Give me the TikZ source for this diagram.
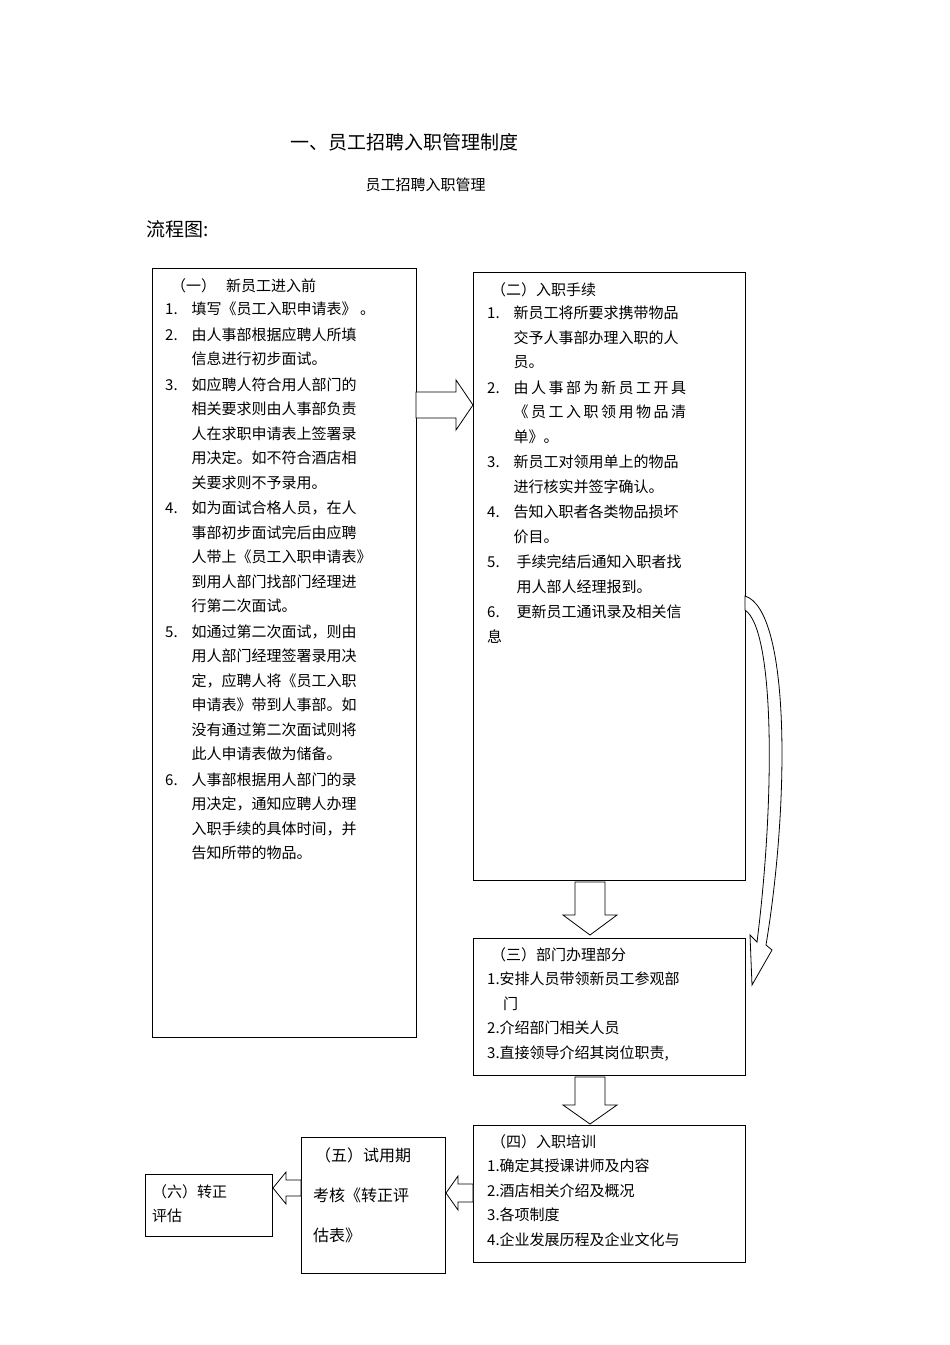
\documentclass[tikz,border=0pt]{standalone}
\usepackage{fontspec}
\newfontfamily\cjk{Noto Sans CJK SC}
\usetikzlibrary{shapes.arrows}
\tikzset{
 boxs/.style={draw,line width=0.9pt},
 txt/.style={anchor=north west,inner sep=0pt,font=\cjk\fontsize{15}{24.5}\selectfont,align=left},
 barrow/.style={draw,line width=0.8pt,fill=white}
}
\begin{document}
\begin{tikzpicture}[x=1pt,y=-1pt]
\useasboundingbox (0,0) rectangle (950,1345);
\node[anchor=west,font=\cjk\fontsize{19}{22}\selectfont] (title) at (287,142) {一、员工招聘入职管理制度};
\node[anchor=west,font=\cjk\fontsize{15}{18}\selectfont] (sub) at (362,185) {员工招聘入职管理};
\node[anchor=west,font=\cjk\fontsize{19}{22}\selectfont] (flow) at (143,229) {流程图:};
% boxes
\draw[boxs] (152,268) rectangle (416,1037) coordinate (b1);
\draw[boxs] (473,272) rectangle (745,880);
\draw[boxs] (473,938) rectangle (745,1075);
\draw[boxs] (473,1125) rectangle (745,1262);
\draw[boxs] (301,1137) rectangle (445,1273);
\draw[boxs] (145,1174) rectangle (272,1236);
% box1 text
\node[txt] (t1) at (165,274) {\begin{tabular}{@{}l@{\hspace{14pt}}l@{}}
\multicolumn{2}{@{\hspace{6pt}}l}{（一）\hspace{10pt}新员工进入前}\\[-1pt]
1. & 填写《员工入职申请表》 。\\[1pt]
2. & 由人事部根据应聘人所填\\ & 信息进行初步面试。\\[1pt]
3. & 如应聘人符合用人部门的\\ & 相关要求则由人事部负责\\ & 人在求职申请表上签署录\\ & 用决定。如不符合酒店相\\ & 关要求则不予录用。\\[1pt]
4. & 如为面试合格人员，在人\\ & 事部初步面试完后由应聘\\ & 人带上《员工入职申请表》\\ & 到用人部门找部门经理进\\ & 行第二次面试。\\[1pt]
5. & 如通过第二次面试，则由\\ & 用人部门经理签署录用决\\ & 定，应聘人将《员工入职\\ & 申请表》带到人事部。如\\ & 没有通过第二次面试则将\\ & 此人申请表做为储备。\\[1pt]
6. & 人事部根据用人部门的录\\ & 用决定，通知应聘人办理\\ & 入职手续的具体时间，并\\ & 告知所带的物品。
\end{tabular}};
% box2 text
\node[txt] (t2) at (487,278) {\begin{tabular}{@{}l@{\hspace{14pt}}l@{}}
\multicolumn{2}{@{\hspace{4pt}}l}{（二）入职手续}\\[-1pt]
1. & 新员工将所要求携带物品\\ & 交予人事部办理入职的人\\ & 员。\\[1pt]
2. & 由\,人\,事\,部\,为\,新\,员\,工\,开\,具\\ & 《\,员\,工\,入\,职\,领\,用\,物\,品\,清\\ & 单》。\\[1pt]
3. & 新员工对领用单上的物品\\ & 进行核实并签字确认。\\[1pt]
4. & 告知入职者各类物品损坏\\ & 价目。\\[1pt]
5. & \hspace{3pt}手续完结后通知入职者找\\ & \hspace{3pt}用人部人经理报到。\\[1pt]
6. & \hspace{3pt}更新员工通讯录及相关信\\
\multicolumn{2}{@{}l}{息}
\end{tabular}};
\node[txt] (t3) at (487,947) {\hspace{4pt}（三）部门办理部分\\1.安排人员带领新员工参观部\\\hspace{16pt}门\\2.介绍部门相关人员\\3.直接领导介绍其岗位职责,};
\node[txt] (t4) at (487,1134) {\hspace{4pt}（四）入职培训\\1.确定其授课讲师及内容\\2.酒店相关介绍及概况\\3.各项制度\\4.企业发展历程及企业文化与};
\node[txt,font=\cjk\fontsize{16}{40}\selectfont] (t5) at (313,1148) {\hspace{2pt}（五）试用期\\考核《转正评\\估表》};
\node[txt] (t6) at (152,1184) {（六）转正\\评估};
% block arrows
\draw[barrow] (416,392)--(456,392)--(456,380)--(473,405)--(456,430)--(456,418)--(416,418)--cycle;
\draw[barrow] (575,882)--(605,882)--(605,915)--(617,915)--(590,935)--(563,915)--(575,915)--cycle;
\draw[barrow] (575,1077)--(605,1077)--(605,1105)--(617,1105)--(590,1124)--(563,1105)--(575,1105)--cycle;
\draw[barrow] (473,1184)--(458,1184)--(458,1176)--(446,1193)--(458,1210)--(458,1202)--(473,1202)--cycle;
\draw[barrow] (301,1180)--(286,1180)--(286,1172)--(273,1188)--(286,1204)--(286,1196)--(301,1196)--cycle;
% curved arrow
\draw[line width=0.8pt,fill=white] (745,596) .. controls (790,610) and (790,800) .. (766,945)
 -- (772,950) -- (752,985) -- (750,935) -- (757,942)
 .. controls (775,800) and (775,630) .. (745,610) -- cycle;
\end{tikzpicture}
\end{document}
